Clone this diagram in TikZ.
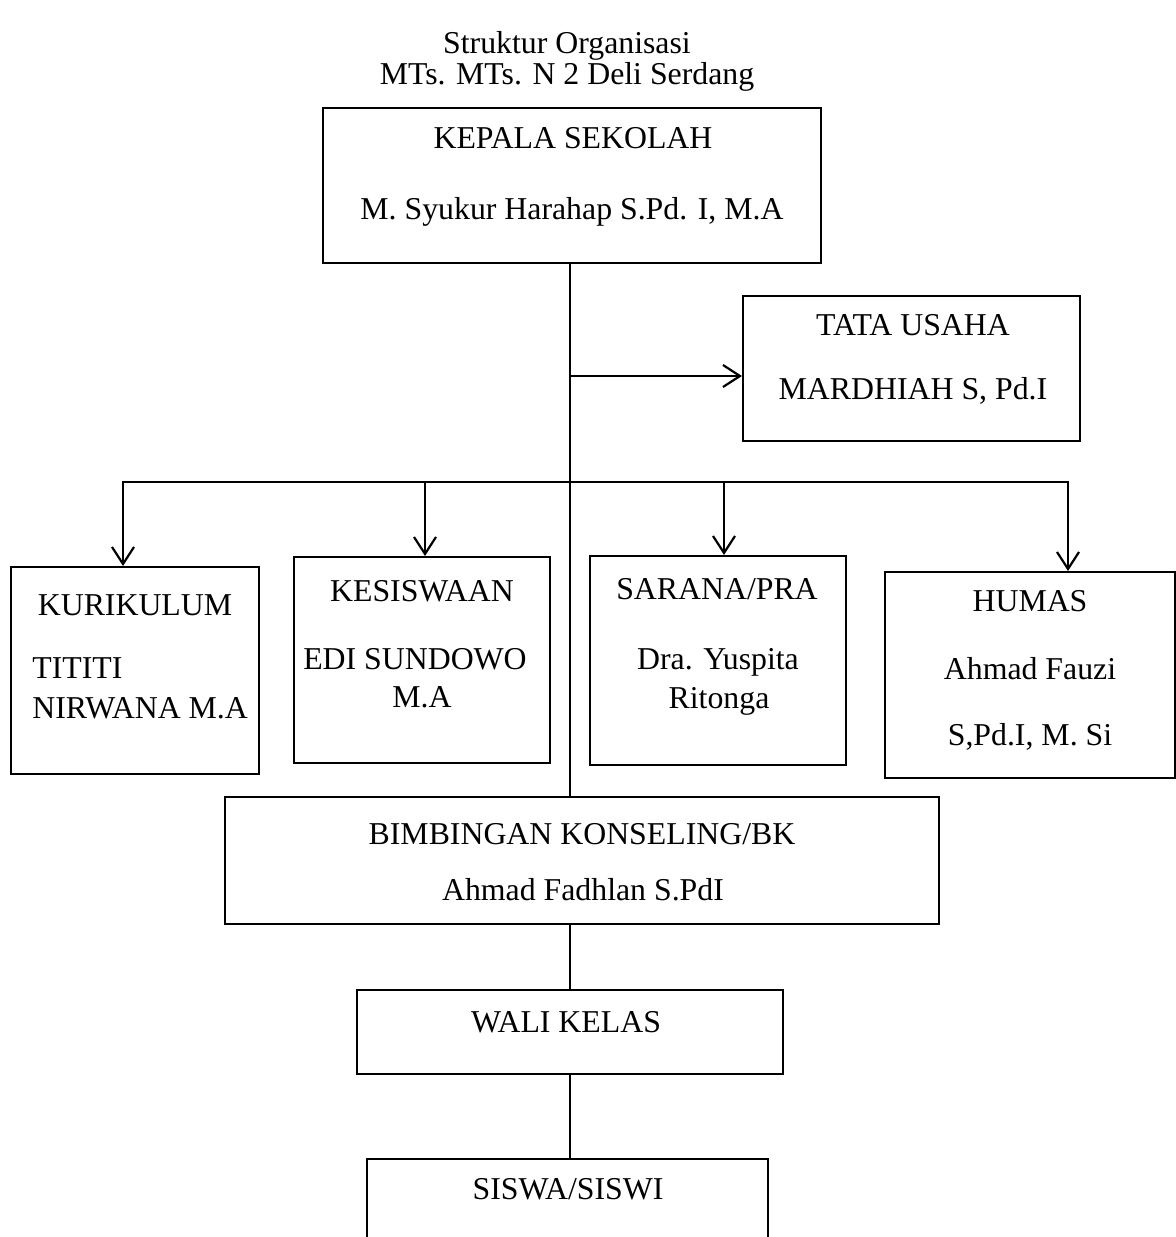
\documentclass[tikz,border=0pt]{standalone}
\usepackage{fontspec}
\setmainfont{Liberation Serif}
\usetikzlibrary{arrows.meta,fit}
\begin{document}
\begin{tikzpicture}[x=0.5pt,y=-0.5pt,
  box/.style={draw,line width=1pt,inner sep=0pt},
  lbl/.style={anchor=base,inner sep=0pt,font=\fontsize{15.9pt}{19pt}\selectfont},
  lblw/.style={lbl,anchor=base west},
  conn/.style={line width=1pt},
  arr/.style={conn,-{Straight Barb[length=8.5pt,width=11pt,line width=1.1pt]}}]
\useasboundingbox (0,0) rectangle (1176,1237);
% title
\node[lbl] (title1) at (567,53) {Struktur Organisasi};
\node[lbl] (title2) at (567,84) {MTs. MTs. N 2 Deli Serdang};
% boxes
\node[box,fit={(323,108) (821,263)}] (kepala) {};
\node[box,fit={(743,296) (1080,441)}] (tu) {};
\node[box,fit={(11,567) (259,774)}] (kur) {};
\node[box,fit={(294,557) (550,763)}] (kes) {};
\node[box,fit={(590,556) (846,765)}] (sar) {};
\node[box,fit={(885,572) (1175,778)}] (hum) {};
\node[box,fit={(225,797) (939,924)}] (bk) {};
\node[box,fit={(357,990) (783,1074)}] (wali) {};
\node[inner sep=0pt,fit={(367,1159) (768,1240)}] (siswa) {};
\draw[conn] (siswa.south west) |- (siswa.north east) -- (siswa.south east);
% texts
\node[lbl] (t-kep1) at (573,148) {KEPALA SEKOLAH};
\node[lbl] (t-kep2) at (572,219) {M. Syukur Harahap S.Pd. I, M.A};
\node[lbl] (t-tu1) at (913,335) {TATA USAHA};
\node[lbl] (t-tu2) at (913,399) {MARDHIAH S, Pd.I};
\node[lbl] (t-kur1) at (135,615) {KURIKULUM};
\node[lblw] (t-kur2) at (32,678) {TITITI};
\node[lblw] (t-kur3) at (32,718) {NIRWANA M.A};
\node[lbl] (t-kes1) at (422,601) {KESISWAAN};
\node[lbl] (t-kes2) at (415,669) {EDI SUNDOWO};
\node[lbl] (t-kes3) at (422,707) {M.A};
\node[lbl] (t-sar1) at (717,599) {SARANA/PRA};
\node[lbl] (t-sar2) at (718,669) {Dra. Yuspita};
\node[lbl] (t-sar3) at (719,708) {Ritonga};
\node[lbl] (t-hum1) at (1030,611) {HUMAS};
\node[lbl] (t-hum2) at (1030,679) {Ahmad Fauzi};
\node[lbl] (t-hum3) at (1030,745) {S,Pd.I, M. Si};
\node[lbl] (t-bk1) at (582,844) {BIMBINGAN KONSELING/BK};
\node[lbl] (t-bk2) at (583,900) {Ahmad Fadhlan S.PdI};
\node[lbl] (t-wali) at (566,1032) {WALI KELAS};
\node[lbl] (t-sis) at (568,1199) {SISWA/SISWI};
% connectors
\coordinate (j1) at (570,376);
\coordinate (j2) at (570,482);
\coordinate (hl) at (123,482);
\coordinate (hr) at (1068,482);
\coordinate (h2) at (425,482);
\coordinate (h3) at (724,482);
\draw[conn] (kepala.south -| j1) -- (bk.north -| j1);
\draw[arr] (j1) -- (tu.west |- j1);
\draw[conn,line cap=rect] (hl) -- (hr);
\draw[arr] (hl) -- (kur.north -| hl);
\draw[arr] (h2) -- (kes.north -| h2);
\draw[arr] (h3) -- (sar.north -| h3);
\draw[arr] (hr) -- (hum.north -| hr);
\draw[conn] (bk.south -| j1) -- (wali.north -| j1);
\draw[conn] (wali.south -| j1) -- (siswa.north -| j1);
\end{tikzpicture}
\end{document}
